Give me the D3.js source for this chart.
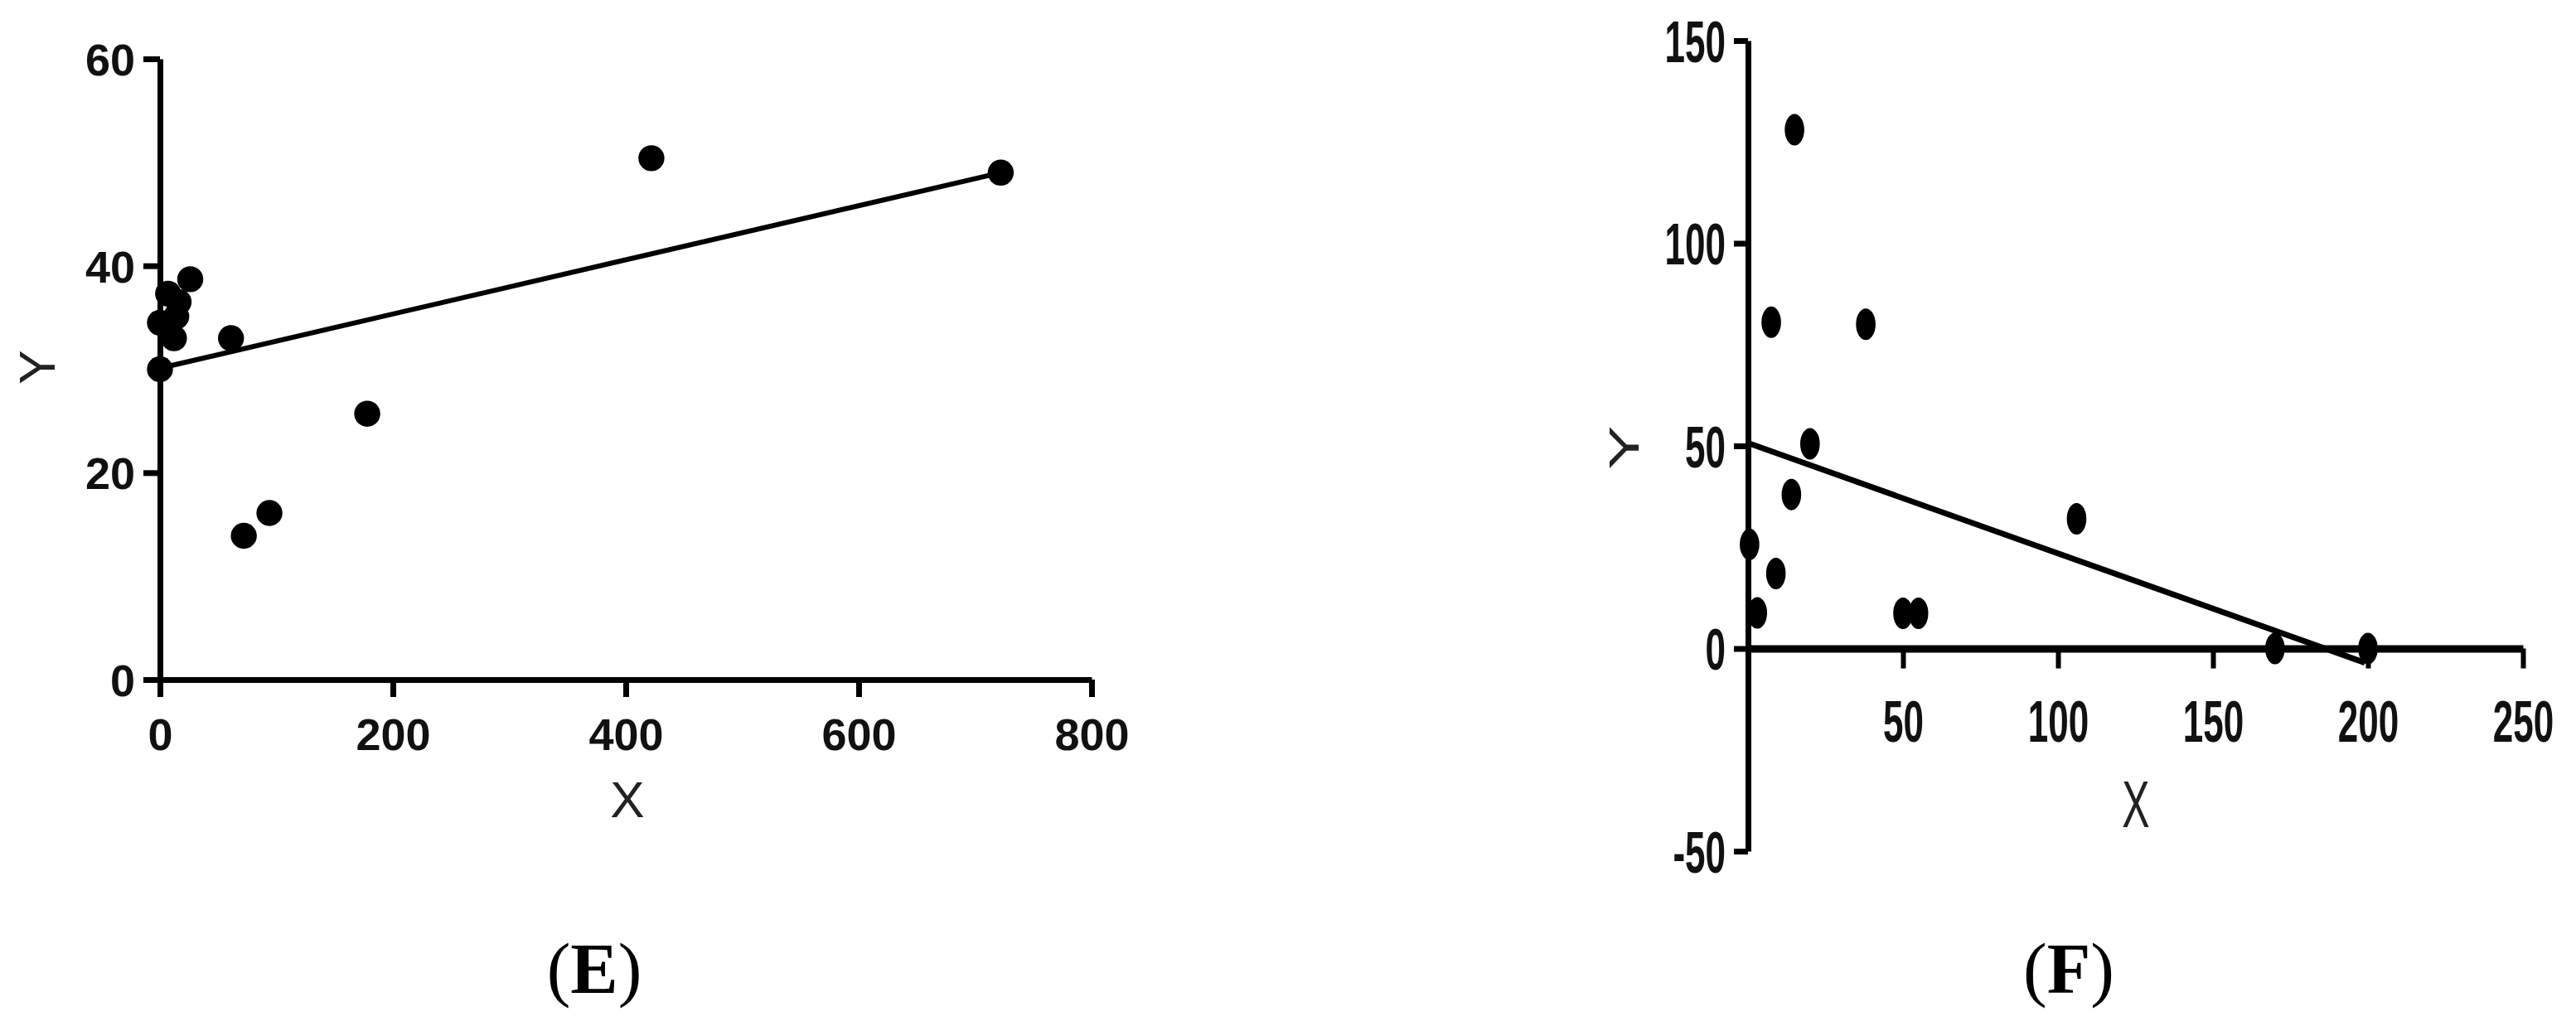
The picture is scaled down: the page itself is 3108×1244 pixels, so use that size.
<!DOCTYPE html>
<html>
<head>
<meta charset="utf-8">
<script src="https://cdn.jsdelivr.net/npm/d3@7"></script>
<style>
	body { margin: 0; background: #fff; }
</style>
</head>
<body>
<div id="chart"></div>
<script>
// panel E data
var xE = [0, 0, 7, 16, 14, 12, 26, 61, 72, 94, 178, 422, 722];
var yE = [30.0, 34.5, 37.3, 36.5, 35.1, 33.0, 38.7, 33.0, 13.9, 16.1, 25.7, 50.4, 49.0];
var fitE = [[0, 30.1], [722, 49.0]];
var ticksXE = [0, 200, 400, 600, 800];
var ticksYE = [0, 20, 40, 60];

// panel F data
var xF = [15, 7.5, 38, 20, 14, 0.5, 9, 3, 50, 55, 106, 170, 200];
var yF = [128, 80.5, 80, 50.5, 38, 25.7, 18.5, 8.8, 8.7, 8.7, 32, 0, 0];
var fitF = [[0, 50.7], [199, -3.5]];
var ticksXF = [0, 50, 100, 150, 200, 250];
var ticksYF = [-50, 0, 50, 100, 150];

var sans = "'Liberation Sans', Arial, sans-serif";
var serif = "'Liberation Serif', 'Times New Roman', serif";
var stretch = 1.6; // panel F is drawn squeezed sideways

var svg = d3.select("#chart")
	.append("svg")
	.attr("width", 3108)
	.attr("height", 1244);

svg.append("rect")
	.attr("width", 3108)
	.attr("height", 1244)
	.attr("fill", "#fff");

// ---------- panel E ----------
var xScaleE = d3.scaleLinear().domain([0, 800]).range([193, 1317]);
var yScaleE = d3.scaleLinear().domain([0, 60]).range([820, 71]);

var gxE = svg.append("g")
	.attr("transform", "translate(0," + yScaleE(0) + ")")
	.call(d3.axisBottom(xScaleE)
		.tickValues(ticksXE)
		.tickSize(21)
		.tickSizeOuter(0)
		.tickPadding(26));

var gyE = svg.append("g")
	.attr("transform", "translate(" + xScaleE(0) + ",0)")
	.call(d3.axisLeft(yScaleE)
		.tickValues(ticksYE)
		.tickSize(20)
		.tickSizeOuter(0)
		.tickPadding(10));

[gxE, gyE].forEach(function(g) {
	g.selectAll("path, line").attr("stroke", "#000").attr("stroke-width", 7);
	g.selectAll("text")
		.attr("fill", "#111")
		.style("font-family", sans)
		.style("font-size", "54px")
		.style("font-weight", "bold");
});
gyE.selectAll("text").attr("dy", "0.36em");

svg.append("path")
	.datum(fitE)
	.attr("fill", "none")
	.attr("stroke", "#000")
	.attr("stroke-width", 6)
	.attr("d", d3.line()
		.x(function(d) { return xScaleE(d[0]); })
		.y(function(d) { return yScaleE(d[1]); }));

svg.selectAll("circle.e")
	.data(d3.range(xE.length))
	.enter().append("circle")
	.attr("class", "e")
	.attr("r", 15.7)
	.attr("cx", function(i) { return xScaleE(xE[i]); })
	.attr("cy", function(i) { return yScaleE(yE[i]); })
	.attr("fill", "#000");

svg.append("text")
	.attr("x", 757)
	.attr("y", 986)
	.attr("text-anchor", "middle")
	.attr("fill", "#222")
	.style("font-family", sans)
	.style("font-size", "62px")
	.text("X");

svg.append("text")
	.attr("transform", "translate(66,443) rotate(-90)")
	.attr("text-anchor", "middle")
	.attr("fill", "#222")
	.style("font-family", sans)
	.style("font-size", "62px")
	.text("Y");

// ---------- panel F ----------
var xScaleF = d3.scaleLinear().domain([0, 250]).range([2109, 3044]);
var yScaleF = d3.scaleLinear().domain([-50, 150]).range([1027, 49]);

var gxF = svg.append("g")
	.attr("transform", "translate(0," + yScaleF(0) + ")")
	.call(d3.axisBottom(xScaleF)
		.tickValues(ticksXF)
		.tickFormat(function(d) { return d === 0 ? "" : String(d); })
		.tickSize(24)
		.tickSizeOuter(0));

var gyF = svg.append("g")
	.attr("transform", "translate(" + xScaleF(0) + ",0)")
	.call(d3.axisLeft(yScaleF)
		.tickValues(ticksYF)
		.tickFormat(function(d) { return String(d); })
		.tickSize(17)
		.tickSizeOuter(0));

gxF.select("path").attr("stroke", "#000").attr("stroke-width", 9);
gxF.selectAll("line").attr("stroke", "#000").attr("stroke-width", 6);
gyF.selectAll("path, line").attr("stroke", "#000").attr("stroke-width", 7);

[gxF, gyF].forEach(function(g) {
	g.selectAll("text")
		.attr("fill", "#111")
		.style("font-family", sans)
		.style("font-size", "44px")
		.style("font-weight", "bold");
});
gxF.selectAll("text")
	.attr("y", 0)
	.attr("dy", 0)
	.attr("transform", "translate(0,112) scale(1," + stretch + ")");
gyF.selectAll("text")
	.attr("x", 0)
	.attr("dy", "0.36em")
	.attr("transform", "translate(-27,0) scale(1," + stretch + ")");

svg.append("path")
	.datum(fitF)
	.attr("fill", "none")
	.attr("stroke", "#000")
	.attr("stroke-width", 7)
	.attr("d", d3.line()
		.x(function(d) { return xScaleF(d[0]); })
		.y(function(d) { return yScaleF(d[1]); }));

svg.selectAll("ellipse.f")
	.data(d3.range(xF.length))
	.enter().append("ellipse")
	.attr("class", "f")
	.attr("rx", 11.8)
	.attr("ry", 19)
	.attr("cx", function(i) { return xScaleF(xF[i]); })
	.attr("cy", function(i) { return yScaleF(yF[i]); })
	.attr("fill", "#000");

svg.append("text")
	.attr("transform", "translate(2577,998) scale(1," + stretch + ")")
	.attr("text-anchor", "middle")
	.attr("fill", "#222")
	.style("font-family", sans)
	.style("font-size", "50px")
	.text("X");

svg.append("text")
	.attr("transform", "translate(1977,540) scale(1," + stretch + ") rotate(-90)")
	.attr("text-anchor", "middle")
	.attr("fill", "#222")
	.style("font-family", sans)
	.style("font-size", "50px")
	.text("Y");

// ---------- panel letters ----------
[["E", 717], ["F", 2496]].forEach(function(p) {
	var t = svg.append("text")
		.attr("x", p[1])
		.attr("y", 1198)
		.attr("text-anchor", "middle")
		.attr("fill", "#000")
		.style("font-family", serif)
		.style("font-size", "86px");
	t.append("tspan").text("(");
	t.append("tspan").style("font-weight", "bold").text(p[0]);
	t.append("tspan").text(")");
});
</script>
</body>
</html>
